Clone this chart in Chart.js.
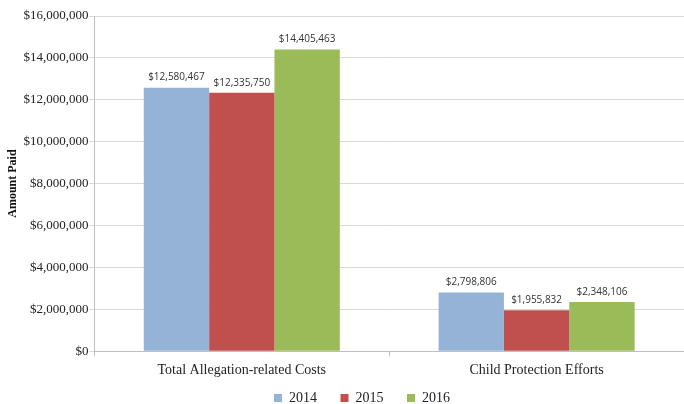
<!DOCTYPE html>
<html>
<head>
<meta charset="utf-8">
<script src="https://cdn.jsdelivr.net/npm/chart.js@4"></script>
<style>
  html, body { margin: 0; padding: 0; background: #fff; }
  #wrap { width: 684px; height: 404px; }
</style>
</head>
<body>
<div id="wrap"><canvas id="chart" width="684" height="404"></canvas></div>
<script>
const categories = ["Total Allegation-related Costs", "Child Protection Efforts"];
const years = ["2014", "2015", "2016"];
const paid2014 = [12580467, 2798806];
const paid2015 = [12335750, 1955832];
const paid2016 = [14405463, 2348106];
const yTicks = [0, 2000000, 4000000, 6000000, 8000000, 10000000, 12000000, 14000000, 16000000];

const colors = ["#95B3D7", "#C0504D", "#9BBB59"];
const money = v => "$" + v.toLocaleString("en-US");

// draws the value over each bar
const barLabels = {
  id: "barLabels",
  afterDatasetsDraw(chart) {
    const ctx = chart.ctx;
    ctx.save();
    ctx.font = "10px 'Open Sans', sans-serif";
    ctx.fillStyle = "#333";
    ctx.textAlign = "center";
    ctx.textBaseline = "bottom";
    chart.data.datasets.forEach((ds, i) => {
      chart.getDatasetMeta(i).data.forEach((bar, j) => {
        ctx.fillText(money(ds.data[j]), bar.x, bar.y - 5);
      });
    });
    ctx.restore();
  }
};

// legend in the original sits a bit right of centre
const legendShift = {
  id: "legendShift",
  afterLayout(chart) {
    chart.legend.left += 18;
    chart.legend.right += 18;
  }
};

const ctx = document.getElementById("chart").getContext("2d");
const data = {
  labels: categories,
  datasets: [
    { label: years[0], data: paid2014, backgroundColor: colors[0] },
    { label: years[1], data: paid2015, backgroundColor: colors[1] },
    { label: years[2], data: paid2016, backgroundColor: colors[2] }
  ]
};
const config = {
  type: "bar",
  data: data,
  options: {
    responsive: false,
    animation: false,
    layout: { padding: { top: 16, right: 0, left: 4, bottom: -11 } },
    datasets: { bar: { barPercentage: 1, categoryPercentage: 0.665 } },
    plugins: {
      legend: {
        position: "bottom",
        labels: {
          boxWidth: 8, boxHeight: 8, padding: 6,
          color: "#222",
          font: { family: "'Liberation Serif', serif", size: 14 },
          generateLabels: chart => Chart.defaults.plugins.legend.labels.generateLabels(chart)
            .map((item, i, arr) => ({ ...item, text: i < arr.length - 1 ? item.text + "     " : item.text }))
        }
      },
      tooltip: { enabled: false }
    },
    scales: {
      x: {
        grid: { offset: true, drawOnChartArea: false, drawTicks: true, tickLength: 5, color: "#bfbfbf" },
        border: { color: "#bfbfbf" },
        ticks: { color: "#222", padding: 6, font: { family: "'Liberation Serif', serif", size: 14 } }
      },
      y: {
        min: 0, max: 16000000,
        afterBuildTicks: axis => { axis.ticks = yTicks.map(v => ({ value: v })); },
        grid: { color: "#d9d9d9", tickLength: 5 },
        border: { color: "#bfbfbf" },
        title: {
          display: true, text: "Amount Paid", color: "#111",
          font: { family: "'Liberation Serif', serif", size: 12, weight: "bold" }, padding: 2
        },
        ticks: { color: "#222", padding: 1, callback: v => money(v), font: { family: "'Liberation Serif', serif", size: 13 } }
      }
    }
  },
  plugins: [barLabels, legendShift]
};

const chart = new Chart(ctx, config);
</script>
</body>
</html>
